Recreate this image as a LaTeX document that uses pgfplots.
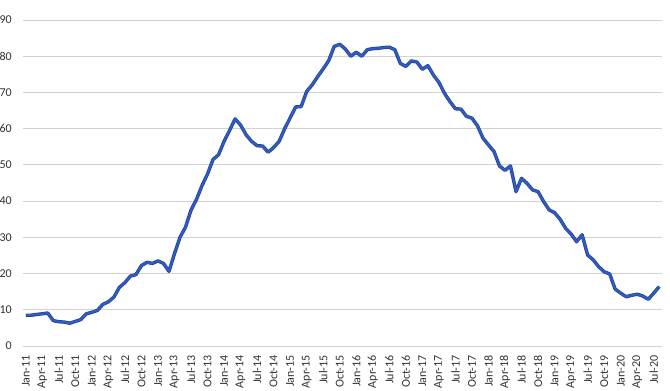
\documentclass[border=0pt]{standalone}
\usepackage{fontspec}
\setmainfont{Carlito}
\usepackage{pgfplots}
\usepackage{pgfplotstable}
\pgfplotsset{compat=1.18}
\definecolor{gridgray}{RGB}{210,210,210}
\definecolor{labgray}{RGB}{50,50,50}
\definecolor{lineouter}{RGB}{32,64,150}
\definecolor{lineinner}{RGB}{50,92,192}
\pgfplotstableread{
i v
0 8.5
1 8.5
2 8.7
3 8.9
4 9.1
5 7.0
6 6.7
7 6.6
8 6.3
9 6.8
10 7.3
11 8.9
12 9.3
13 9.8
14 11.5
15 12.2
16 13.5
17 16.2
18 17.5
19 19.3
20 19.7
21 22.2
22 23.1
23 22.8
24 23.5
25 22.8
26 20.6
27 25.5
28 30.0
29 32.8
30 37.5
31 40.5
32 44.3
33 47.5
34 51.5
35 52.8
36 56.5
37 59.5
38 62.7
39 61.0
40 58.3
41 56.5
42 55.3
43 55.2
44 53.5
45 54.8
46 56.5
47 60.0
48 63.0
49 66.0
50 66.1
51 70.3
52 72.1
53 74.4
54 76.5
55 78.8
56 82.7
57 83.3
58 82.0
59 80.0
60 81.1
61 80.0
62 81.8
63 82.1
64 82.2
65 82.4
66 82.5
67 81.8
68 78.0
69 77.2
70 78.7
71 78.4
72 76.4
73 77.4
74 74.8
75 72.8
76 69.8
77 67.5
78 65.5
79 65.4
80 63.4
81 62.9
82 60.8
83 57.4
84 55.5
85 53.7
86 49.7
87 48.5
88 49.7
89 42.6
90 46.3
91 44.9
92 43.1
93 42.6
94 39.9
95 37.6
96 36.8
97 35.0
98 32.5
99 30.9
100 28.8
101 30.7
102 25.1
103 23.8
104 21.9
105 20.5
106 19.9
107 15.7
108 14.6
109 13.6
110 14.0
111 14.3
112 13.8
113 12.9
114 14.6
115 16.4
}\datatable
\begin{document}
\begin{tikzpicture}
\begin{axis}[
  at={(0,0)}, anchor=south west,
  scale only axis,
  width=639bp, height=326bp,
  xmin=-0.5, xmax=115.5,
  ymin=0, ymax=90,
  ytick={0,10,...,90},
  xtick={0,3,...,114},
  xticklabels={Jan-11,Apr-11,Jul-11,Oct-11,Jan-12,Apr-12,Jul-12,Oct-12,Jan-13,Apr-13,Jul-13,Oct-13,Jan-14,Apr-14,Jul-14,Oct-14,Jan-15,Apr-15,Jul-15,Oct-15,Jan-16,Apr-16,Jul-16,Oct-16,Jan-17,Apr-17,Jul-17,Oct-17,Jan-18,Apr-18,Jul-18,Oct-18,Jan-19,Apr-19,Jul-19,Oct-19,Jan-20,Apr-20,Jul-20},
  axis line style={draw=none},
  major tick length=0pt,
  ymajorgrids,
  grid style={draw=gridgray, line width=0.8bp},
  /pgf/number format/assume math mode=true,
  tick label style={font=\fontsize{12bp}{14bp}\selectfont, text=labgray},
  xticklabel style={rotate=90, anchor=east, inner sep=0pt},
  xticklabel shift=9bp,
  yticklabel style={anchor=east, inner sep=0pt},
  yticklabel shift=11bp,
]
\addplot[draw=lineouter, line width=3.4bp, line join=round,
  postaction={draw=lineinner, line width=2bp, line join=round}]
  table[x=i, y=v] {\datatable};
\end{axis}
\pgfresetboundingbox
\path[use as bounding box] (-23bp,-45bp) rectangle (647bp,346bp);
\end{tikzpicture}
\end{document}
